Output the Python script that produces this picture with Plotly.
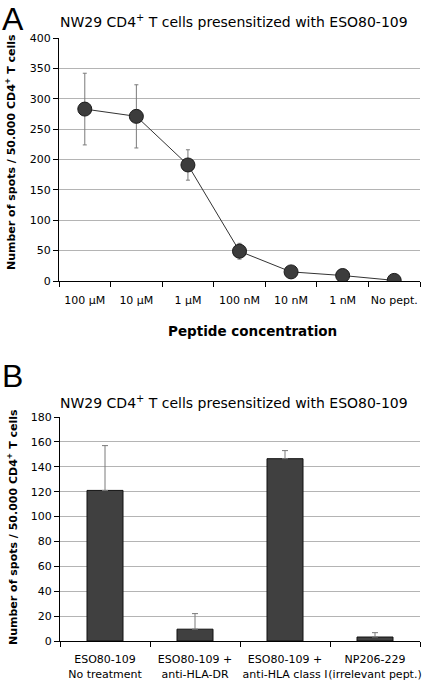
import plotly.graph_objects as go

conc_labels = ["100 µM", "10 µM", "1 µM", "100 nM", "10 nM", "1 nM", "No pept."]
spots_a = [283, 271, 191, 49, 15, 9, 1]
err_a = [59, 52, 25, 13, 0, 0, 0]

cond_labels = ["ESO80-109<br>No treatment", "ESO80-109 +<br>anti-HLA-DR",
               "ESO80-109 +<br>anti-HLA class I", "NP206-229<br>(irrelevant pept.)"]
spots_b = [121, 9.5, 146.5, 3.2]
err_b = [36, 12.5, 6.5, 3.5]

yticks_a = [0, 50, 100, 150, 200, 250, 300, 350, 400]
yticks_b = [0, 20, 40, 60, 80, 100, 120, 140, 160, 180]

FONT = "DejaVu Sans"
W, H = 439, 685

fig = go.Figure()
fig.add_trace(go.Scatter(
    x=conc_labels, y=spots_a, mode="lines+markers",
    line=dict(color="#333333", width=1),
    marker=dict(size=14, color="#3c3c3c", line=dict(color="#1a1a1a", width=1)),
    error_y=dict(type="data", array=err_a, color="#7a7a7a", thickness=1, width=2),
    xaxis="x", yaxis="y", showlegend=False))

fig.add_trace(go.Bar(
    x=cond_labels, y=spots_b, width=0.4,
    marker=dict(color="#404040", line=dict(color="#111111", width=1)),
    error_y=dict(type="data", array=err_b, arrayminus=[0]*4, symmetric=False,
                 color="#7a7a7a", thickness=1, width=3),
    xaxis="x2", yaxis="y2", showlegend=False))

axis_common = dict(showline=True, linecolor="black", linewidth=1, ticks="outside",
                   tickcolor="black", ticklen=5, tickangle=0,
                   tickfont=dict(family=FONT, size=11, color="black"))

fig.update_layout(
    width=W, height=H, margin=dict(l=0, r=0, t=0, b=0),
    paper_bgcolor="white", plot_bgcolor="white",
    font=dict(family=FONT, color="black"),
    xaxis=dict(domain=[59/W, 420/W], anchor="y", type="category", tickson="boundaries",
               range=[-0.5, 6.5], showgrid=False, automargin=False, ticklabelstandoff=9, **axis_common),
    yaxis=dict(domain=[(H-281)/H, (H-38)/H], anchor="x", range=[0, 400], tickvals=yticks_a,
               showgrid=True, gridcolor="#b4b4b4", gridwidth=1, zeroline=False, automargin=False, **axis_common),
    xaxis2=dict(domain=[60/W, 420/W], anchor="y2", type="category", tickson="boundaries",
                range=[-0.5, 3.5], showgrid=False, automargin=False, ticklabelstandoff=8, **axis_common),
    yaxis2=dict(domain=[(H-641)/H, (H-417)/H], anchor="x2", range=[0, 180], tickvals=yticks_b,
                showgrid=True, gridcolor="#b4b4b4", gridwidth=1, zeroline=False, automargin=False, **axis_common),
)

title = "NW29 CD4<sup>+</sup> T cells presensitized with ESO80-109"
ytitle = "<b>Number of spots / 50.000 CD4<sup>+</sup> T cells</b>"
ann = [
    dict(text="A", x=0, y=1-19/H, xanchor="left", yanchor="middle", font=dict(family="Liberation Sans", size=32)),
    dict(text=title, x=234/W, y=1-21/H, xanchor="center", yanchor="middle", font=dict(size=14)),
    dict(text=ytitle, x=10/W, y=1-152/H, xanchor="center", yanchor="middle", textangle=-90, font=dict(size=11)),
    dict(text="<b>Peptide concentration</b>", x=252/W, y=1-331/H, xanchor="center", yanchor="middle", font=dict(size=13.5)),
    dict(text="B", x=0, y=1-376/H, xanchor="left", yanchor="middle", font=dict(family="Liberation Sans", size=32)),
    dict(text=title, x=234/W, y=1-402/H, xanchor="center", yanchor="middle", font=dict(size=14)),
    dict(text=ytitle, x=12/W, y=1-527/H, xanchor="center", yanchor="middle", textangle=-90, font=dict(size=11)),
]
for a in ann:
    a.update(xref="paper", yref="paper", showarrow=False)
fig.update_layout(annotations=ann)

fig.write_html("out.html", config={"displayModeBar": False},
               post_script="document.body.style.margin='0';")
